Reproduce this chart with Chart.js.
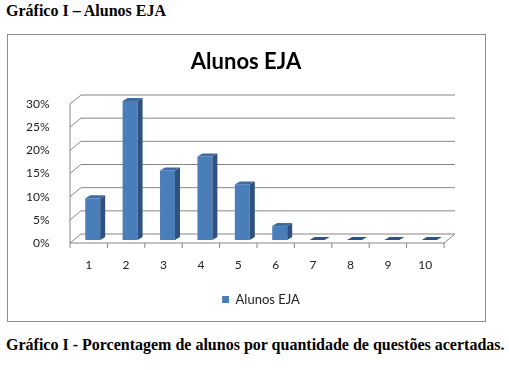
<!DOCTYPE html>
<html>
<head>
<meta charset="utf-8">
<script src="https://cdn.jsdelivr.net/npm/chart.js"></script>
<style>
  body { margin: 0; background: #fff; width: 509px; height: 370px; position: relative; }
  .titulo { position: absolute; left: 6px; top: 2px; font: bold 16px "Liberation Serif", serif; color: #000; }
  .quadro { position: absolute; left: 7px; top: 34px; width: 477px; height: 286px; border: 1px solid #8c8c8c; }
  .legenda { position: absolute; left: 6px; top: 336px; font: bold 16px "Liberation Serif", serif; color: #000; white-space: nowrap; }
  canvas { position: absolute; left: 0; top: 0; }
</style>
</head>
<body>
<div class="titulo">Gráfico I – Alunos EJA</div>
<div class="quadro"><canvas id="grafico-eja" width="477" height="286"></canvas></div>
<div class="legenda">Gráfico I - Porcentagem de alunos por quantidade de questões acertadas.</div>
<script>
// dados
const questoes = ['1', '2', '3', '4', '5', '6', '7', '8', '9', '10'];
const alunosEja = [9, 30, 15, 18, 12, 3, 0, 0, 0, 0];
const ticksY = [0, 5, 10, 15, 20, 25, 30];

const corGrade = '#868686';
const frente = { dx: -4, dy: 3 };   // plano da frente (eixos)
const fundo = { dx: 7, dy: -6 };    // parede do fundo
const prof = { dx: 5, dy: -3 };     // profundidade das barras

const efeito3d = {
  id: 'efeito3d',
  beforeDatasetsDraw(chart) {
    const ctx = chart.ctx;
    const x = chart.scales.x, y = chart.scales.y;
    const esq = x.left, dir = x.right;
    const base = y.getPixelForValue(0);
    ctx.save();
    ctx.strokeStyle = corGrade;
    ctx.lineWidth = 1;
    // linhas de grade (parede lateral + fundo)
    ticksY.forEach(v => {
      const py = y.getPixelForValue(v);
      ctx.beginPath();
      ctx.moveTo(esq + frente.dx, py + frente.dy);
      ctx.lineTo(esq + fundo.dx, py + fundo.dy);
      ctx.lineTo(dir + fundo.dx, py + fundo.dy);
      ctx.stroke();
    });
    // eixo y e piso
    ctx.beginPath();
    ctx.moveTo(esq + frente.dx, y.getPixelForValue(ticksY[ticksY.length - 1]) + frente.dy);
    ctx.lineTo(esq + frente.dx, base + frente.dy);
    ctx.lineTo(dir + frente.dx, base + frente.dy);
    ctx.lineTo(dir + fundo.dx, base + fundo.dy);
    ctx.stroke();
    // marcas do eixo x
    const passo = x.getPixelForValue(1) - x.getPixelForValue(0);
    for (let i = 0; i <= questoes.length; i++) {
      const px = x.getPixelForValue(0) - passo / 2 + i * passo + frente.dx;
      ctx.beginPath();
      ctx.moveTo(px, base + frente.dy);
      ctx.lineTo(px, base + frente.dy + 5);
      ctx.stroke();
    }
    ctx.restore();
  },
  afterDatasetsDraw(chart) {
    const ctx = chart.ctx;
    const meta = chart.getDatasetMeta(0);
    ctx.save();
    meta.data.forEach(barra => {
      const { x, y, base, width } = barra.getProps(['x', 'y', 'base', 'width'], true);
      const e = x - width / 2, d = x + width / 2;
      // lado
      if (base - y > 0.5) {
        ctx.fillStyle = '#2F5180';
        ctx.beginPath();
        ctx.moveTo(d, y);
        ctx.lineTo(d + prof.dx, y + prof.dy);
        ctx.lineTo(d + prof.dx, base + prof.dy);
        ctx.lineTo(d, base);
        ctx.closePath();
        ctx.fill();
      }
      // topo
      ctx.fillStyle = base - y > 0.5 ? '#3E6BA3' : '#2F5286';
      ctx.beginPath();
      ctx.moveTo(e, y);
      ctx.lineTo(e + prof.dx, y + prof.dy);
      ctx.lineTo(d + prof.dx, y + prof.dy);
      ctx.lineTo(d, y);
      ctx.closePath();
      ctx.fill();
    });
    ctx.restore();
  }
};

const fonteEixo = { family: 'Lato, "Open Sans", sans-serif', size: 12 };

new Chart(document.getElementById('grafico-eja'), {
  type: 'bar',
  data: {
    labels: questoes,
    datasets: [{
      label: 'Alunos EJA',
      data: alunosEja,
      backgroundColor: '#4A7EBB',
      borderWidth: 0,
      categoryPercentage: 0.8,
      barPercentage: 0.5
    }]
  },
  options: {
    responsive: false,
    animation: false,
    layout: { padding: { left: 36, right: 37, top: 0, bottom: 5 } },
    scales: {
      x: {
        grid: { display: false },
        border: { display: false },
        ticks: { color: '#222', font: fonteEixo, padding: 10, labelOffset: -4 },
        afterFit(scale) { scale.height = 43; }
      },
      y: {
        min: 0,
        max: 30,
        grid: { display: false },
        border: { display: false },
        ticks: {
          stepSize: 5,
          color: '#222',
          font: fonteEixo,
          mirror: true,          // evita o recorte dos rótulos
          crossAlign: 'far',
          padding: -48,
          labelOffset: 3,
          callback: v => v + '%'
        },
        afterFit(scale) { scale.width = 30; }
      }
    },
    plugins: {
      title: {
        display: true,
        text: 'Alunos EJA',
        color: '#000',
        font: { family: 'Lato, "Open Sans", sans-serif', size: 22, weight: 'bold' },
        padding: { top: 14, bottom: 25.6 }
      },
      legend: {
        position: 'bottom',
        fullSize: false,
        labels: { boxWidth: 7, boxHeight: 7, color: '#222', font: { family: 'Lato, "Open Sans", sans-serif', size: 13 }, padding: 10 }
      },
      tooltip: { enabled: false }
    }
  },
  plugins: [efeito3d]
});
</script>
</body>
</html>
